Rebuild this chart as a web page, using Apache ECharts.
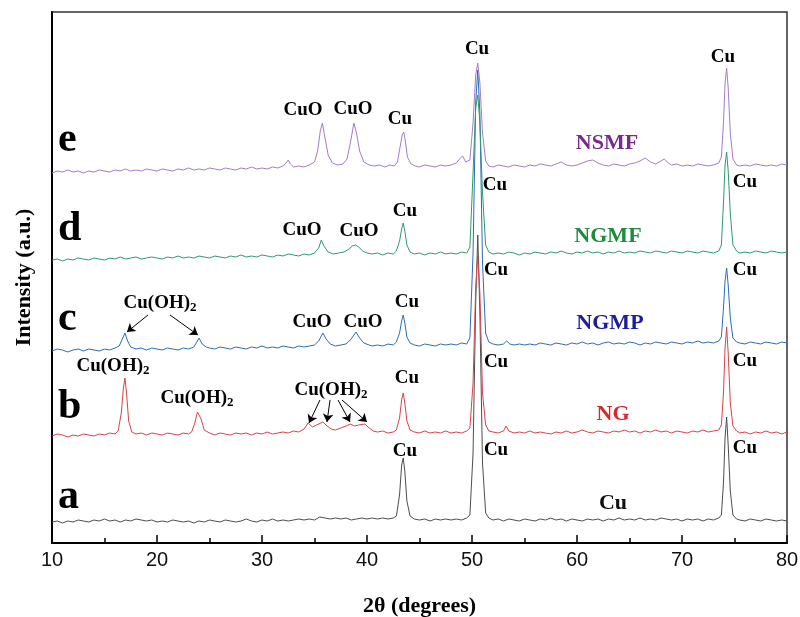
<!DOCTYPE html>
<html>
<head>
<meta charset="utf-8">
<script src="https://cdn.jsdelivr.net/npm/echarts@6/dist/echarts.min.js"></script>
<style>html,body{margin:0;padding:0;background:#fff}#chart{width:800px;height:617px}</style>
</head>
<body>
<div id="chart"></div>
<script>
// x-axis tick values (2θ, degrees)
const xTicks = [10, 20, 30, 40, 50, 60, 70, 80];

// XRD patterns, [2θ, intensity (offset, a.u.)]
const patA = [[10,21],[10.5,22],[11,20],[11.5,22],[12,21],[12.5,23],[13,22],[13.5,21],[14,23],[14.5,22],[15,24],[15.5,22],[16,23],[16.5,21],[17,23],[17.5,22],[18,24],[18.5,23],[19,22],[19.5,23],[20,21],[20.5,22],[21,21],[21.5,23],[22,22],[22.5,21],[23,22],[23.5,20],[24,22],[24.5,21],[25,23],[25.5,22],[26,21],[26.5,23],[27,22],[27.5,21],[28,22],[28.5,24],[29,22],[29.5,21],[30,23],[30.5,22],[31,24],[31.5,22],[32,23],[32.5,22],[33,23],[33.5,24],[34,23],[34.5,24],[35,23],[35.5,26],[36,25],[36.5,24],[37,25],[37.5,24],[38,25],[38.5,23],[39,24],[39.5,25],[40,24],[40.5,25],[41,24],[41.5,25],[42,24],[42.5,25],[42.8,27],[43.1,48],[43.3,78],[43.45,85],[43.6,72],[43.8,42],[44.1,27],[44.5,24],[45,23],[45.5,24],[46,22],[46.5,24],[47,23],[47.5,24],[48,23],[48.5,24],[49,23],[49.5,25],[49.8,28],[50.1,90],[50.35,240],[50.55,308],[50.75,230],[51,80],[51.3,30],[51.6,25],[52,23],[52.5,24],[53,22],[53.5,24],[54,23],[54.5,22],[55,24],[55.5,23],[56,22],[56.5,24],[57,23],[57.5,25],[58,23],[58.5,24],[59,22],[59.5,24],[60,23],[60.5,22],[61,24],[61.5,23],[62,24],[62.5,22],[63,24],[63.5,23],[64,25],[64.5,23],[65,24],[65.5,23],[66,25],[66.5,23],[67,24],[67.5,23],[68,25],[68.5,24],[69,23],[69.5,24],[70,22],[70.5,24],[71,23],[71.5,24],[72,22],[72.5,24],[73,23],[73.5,25],[73.75,28],[73.95,60],[74.1,105],[74.25,126],[74.4,98],[74.6,52],[74.85,28],[75.2,24],[75.5,23],[76,22],[76.5,24],[77,23],[77.5,22],[78,24],[78.5,23],[79,22],[79.5,23],[80,22]];

const patB = [[10,107],[10.5,109],[11,108],[11.5,106],[12,108],[12.5,107],[13,109],[13.5,108],[14,107],[14.5,109],[15,108],[15.5,110],[16,109],[16.3,112],[16.6,130],[16.8,155],[16.95,165],[17.1,150],[17.3,122],[17.6,111],[18,109],[18.5,110],[19,108],[19.5,110],[20,109],[20.5,108],[21,110],[21.5,109],[22,108],[22.5,110],[23,109],[23.3,111],[23.6,120],[23.85,131],[24,133],[24.2,124],[24.5,113],[25,110],[25.5,108],[26,110],[26.5,109],[27,108],[27.5,110],[28,109],[28.5,110],[29,108],[29.5,110],[30,109],[30.5,111],[31,109],[31.5,110],[32,111],[32.5,110],[33,112],[33.5,111],[34,114],[34.4,120],[34.8,116],[35.2,118],[35.8,121],[36.2,117],[36.6,114],[37,113],[37.5,115],[38,117],[38.4,119],[38.8,117],[39.2,118],[39.8,119],[40.2,115],[40.6,112],[41,111],[41.5,112],[42,110],[42.5,111],[42.8,113],[43.1,125],[43.3,143],[43.45,150],[43.6,140],[43.8,122],[44.1,113],[44.5,111],[45,110],[45.5,112],[46,110],[46.5,111],[47,110],[47.5,112],[48,110],[48.5,111],[49,110],[49.5,112],[49.8,115],[50.1,160],[50.35,255],[50.55,288],[50.75,250],[51,150],[51.3,118],[51.6,112],[52,111],[52.5,110],[53,112],[53.25,117],[53.5,112],[54,110],[54.5,111],[55,110],[55.5,112],[56,110],[56.5,111],[57,110],[57.5,109],[58,111],[58.5,110],[59,112],[59.5,110],[60,111],[60.5,113],[61,111],[61.5,110],[62,112],[62.5,111],[63,110],[63.5,112],[64,111],[64.5,113],[65,111],[65.5,112],[66,110],[66.5,112],[67,111],[67.5,113],[68,111],[68.5,112],[69,110],[69.5,112],[70,111],[70.5,110],[71,112],[71.5,111],[72,113],[72.5,111],[73,112],[73.5,113],[73.75,118],[73.95,150],[74.1,195],[74.25,216],[74.4,190],[74.6,140],[74.85,117],[75.2,112],[75.5,110],[76,111],[76.5,109],[77,111],[77.5,110],[78,112],[78.5,110],[79,111],[79.5,109],[80,111]];

const patC = [[10,192],[10.5,194],[11,193],[11.5,191],[12,193],[12.5,194],[13,192],[13.5,194],[14,193],[14.5,192],[15,194],[15.5,193],[16,195],[16.4,197],[16.7,204],[16.95,210],[17.2,202],[17.5,196],[18,194],[18.5,195],[19,193],[19.5,195],[20,194],[20.5,193],[21,195],[21.5,194],[22,193],[22.5,195],[23,194],[23.5,196],[23.8,201],[24,205],[24.3,199],[24.7,196],[25,195],[25.5,194],[26,196],[26.5,195],[27,194],[27.5,196],[28,195],[28.5,194],[29,196],[29.5,195],[30,197],[30.5,195],[31,196],[31.5,195],[32,197],[32.5,196],[33,195],[33.5,197],[34,196],[34.5,197],[35,198],[35.4,202],[35.8,210],[36.1,204],[36.5,199],[37,197],[37.5,198],[38,199],[38.5,204],[38.95,211],[39.3,205],[39.7,200],[40.2,198],[40.5,197],[41,198],[41.5,197],[42,199],[42.5,198],[42.8,201],[43.1,210],[43.3,222],[43.45,228],[43.6,220],[43.8,206],[44.1,200],[44.5,198],[45,197],[45.5,199],[46,198],[46.5,197],[47,199],[47.5,198],[48,199],[48.5,198],[49,200],[49.5,199],[49.8,205],[50.1,290],[50.35,440],[50.55,473],[50.75,430],[51,280],[51.3,210],[51.6,201],[52,199],[52.5,198],[53,199],[53.3,202],[53.6,199],[54,198],[54.5,199],[55,198],[55.5,199],[56,198],[56.5,200],[57,199],[57.5,198],[58,200],[58.5,199],[59,198],[59.5,200],[60,199],[60.5,201],[61,199],[61.5,200],[62,198],[62.5,200],[63,201],[63.5,199],[64,200],[64.5,199],[65,201],[65.5,200],[66,198],[66.5,200],[67,199],[67.5,201],[68,200],[68.5,199],[69,201],[69.5,200],[70,199],[70.5,201],[71,200],[71.5,202],[72,200],[72.5,201],[73,200],[73.5,202],[73.75,206],[73.95,235],[74.1,262],[74.25,275],[74.4,258],[74.6,225],[74.85,205],[75.2,201],[75.5,200],[76,199],[76.5,201],[77,200],[77.5,199],[78,201],[78.5,200],[79,199],[79.5,201],[80,200]];

const patD = [[10,283],[10.5,284],[11,282],[11.5,284],[12,283],[12.5,285],[13,284],[13.5,283],[14,285],[14.5,284],[15,283],[15.5,285],[16,284],[16.5,286],[17,284],[17.5,285],[18,286],[18.5,284],[19,285],[19.5,286],[20,285],[20.5,284],[21,286],[21.5,285],[22,287],[22.5,285],[23,286],[23.5,285],[24,287],[24.5,286],[25,285],[25.5,287],[26,286],[26.5,285],[27,287],[27.5,286],[28,288],[28.5,286],[29,287],[29.5,286],[30,288],[30.5,287],[31,286],[31.5,288],[32,287],[32.5,289],[33,288],[33.5,287],[34,289],[34.5,288],[35,290],[35.4,295],[35.65,303],[35.9,297],[36.3,291],[36.8,289],[37.3,290],[37.8,291],[38.3,294],[38.6,297],[38.9,298],[39.2,296],[39.6,292],[40,290],[40.5,289],[41,290],[41.5,288],[42,290],[42.5,289],[42.8,292],[43.1,302],[43.3,314],[43.45,320],[43.6,312],[43.8,298],[44.1,291],[44.5,289],[45,290],[45.5,288],[46,290],[46.5,289],[47,291],[47.5,289],[48,290],[48.5,289],[49,291],[49.5,290],[49.8,296],[50.1,370],[50.35,435],[50.55,448],[50.75,420],[51,350],[51.3,298],[51.6,291],[52,289],[52.5,290],[53,289],[53.5,291],[54,290],[54.5,288],[55,290],[55.5,289],[56,291],[56.5,290],[57,289],[57.5,291],[58,290],[58.5,292],[59,290],[59.5,289],[60,291],[60.5,290],[61,292],[61.5,290],[62,291],[62.5,289],[63,291],[63.5,290],[64,292],[64.5,290],[65,291],[65.5,290],[66,292],[66.5,291],[67,290],[67.5,292],[68,291],[68.5,290],[69,292],[69.5,291],[70,290],[70.5,292],[71,291],[71.5,290],[72,292],[72.5,291],[73,290],[73.5,292],[73.75,298],[73.95,340],[74.1,378],[74.25,391],[74.4,372],[74.6,330],[74.85,298],[75.2,292],[75.5,290],[76,291],[76.5,290],[77,292],[77.5,291],[78,290],[78.5,292],[79,291],[79.5,290],[80,291]];

const patE = [[10,370],[10.5,372],[11,371],[11.5,373],[12,371],[12.5,372],[13,370],[13.5,372],[14,371],[14.5,373],[15,372],[15.5,371],[16,373],[16.5,372],[17,374],[17.5,372],[18,373],[18.5,372],[19,374],[19.5,373],[20,372],[20.5,374],[21,373],[21.5,372],[22,374],[22.5,373],[23,375],[23.5,373],[24,374],[24.5,373],[25,375],[25.5,374],[26,373],[26.5,375],[27,374],[27.5,373],[28,375],[28.5,374],[29,376],[29.5,374],[30,375],[30.5,374],[31,376],[31.5,375],[32,377],[32.3,380],[32.5,383],[32.7,379],[33,376],[33.5,377],[34,376],[34.5,378],[35,381],[35.3,392],[35.55,412],[35.75,420],[35.95,408],[36.3,388],[36.7,380],[37.2,378],[37.7,379],[38.1,384],[38.45,402],[38.75,420],[39.0,410],[39.3,392],[39.7,381],[40.2,378],[40.7,377],[41.2,378],[41.7,376],[42.2,378],[42.6,377],[42.9,381],[43.15,396],[43.35,408],[43.5,411],[43.65,402],[43.85,386],[44.2,379],[44.6,377],[45,376],[45.5,378],[46,377],[46.5,376],[47,378],[47.5,377],[48,378],[48.5,380],[48.9,385],[49.1,387],[49.4,381],[49.8,383],[50.1,420],[50.35,468],[50.55,480],[50.75,460],[51,410],[51.3,382],[51.6,377],[52,376],[52.5,378],[53,377],[53.5,376],[54,378],[54.5,377],[55,376],[55.5,378],[56,377],[56.5,379],[57,378],[57.5,377],[58,379],[58.5,381],[59,378],[59.5,377],[60,378],[60.5,380],[61,382],[61.5,383],[62,380],[62.5,378],[63,377],[63.5,379],[64,378],[64.5,377],[65,379],[65.5,380],[66,382],[66.5,385],[67,381],[67.5,379],[68,382],[68.3,384],[68.7,380],[69,378],[69.5,379],[70,377],[70.5,378],[71,377],[71.5,379],[72,378],[72.5,377],[73,378],[73.5,380],[73.75,386],[73.95,420],[74.1,460],[74.25,475],[74.4,455],[74.6,410],[74.85,384],[75.2,378],[75.5,377],[76,378],[76.5,377],[77,379],[77.5,378],[78,377],[78.5,378],[79,377],[79.5,379],[80,378]];

// Annotations: [text, 2θ, intensity]
const phaseLabels = [
  ['CuO',33.9,433],['CuO',38.67,434],['Cu',43.14,424],['Cu',50.48,494],['Cu',73.9,486],
  ['CuO',33.81,313],['CuO',39.24,312],['Cu',43.62,332],['Cu',52.19,358],['Cu',76.0,361],
  ['CuO',34.76,221],['CuO',39.62,221],['Cu',43.81,241],['Cu',52.29,273],['Cu',76.0,273],
  ['Cu',43.81,165],['Cu',52.29,181],['Cu',76.0,182],
  ['Cu',43.62,92],['Cu',52.29,93],['Cu',76.0,95]
];
const hydroxideLabels = [[20.29,240],[15.81,177],[23.81,145],[36.57,153]];
const sampleLetters = [['e',10.57,403],['d',10.57,314],['c',10.57,224],['b',10.57,136],['a',10.57,46]];
const sampleNames = [['NSMF',62.86,400],['NGMF',62.95,307],['NGMP',63.14,220],['NG',63.43,129],['Cu',63.43,40]];
// arrows: [from 2θ, from I, to 2θ, to I]
const arrows = [
  [19.14,228,17.14,211],[21.24,228,23.9,208],
  [35.52,143,34.48,120],[36.48,143,36.19,121],[37.24,143,38.38,121],[37.62,143,40.0,121]
];

const serif = "'Liberation Serif','Times New Roman',serif";
const seriesColors = ['#4d4d4d','#d8434b','#2c6db5','#2e9a6e','#a47ccb'];
const nameColors = ['#7a2a8c','#1d8b3b','#1c1c9c','#d42a2a','#111111'];

function pt(coord, label) {
  return { coord: coord, symbol: 'circle', symbolSize: 1, itemStyle: { color: 'rgba(0,0,0,0)' }, label: label };
}
const markData = [];
phaseLabels.forEach(l => markData.push(pt([l[1], l[2]], {
  show: true, position: 'inside', formatter: l[0], color: '#000', fontFamily: serif, fontWeight: 'bold', fontSize: 19
})));
hydroxideLabels.forEach(l => markData.push(pt([l[0], l[1]], {
  show: true, position: 'inside', formatter: '{m|Cu(OH)}{s|2}',
  rich: {
    m: { fontFamily: serif, fontWeight: 'bold', fontSize: 19, color: '#000', lineHeight: 20 },
    s: { fontFamily: serif, fontWeight: 'bold', fontSize: 13, color: '#000', lineHeight: 13, padding: [9, 0, 0, 0] }
  }
})));
sampleLetters.forEach(l => markData.push(pt([l[1], l[2]], {
  show: true, position: 'inside', align: 'left', formatter: l[0], color: '#000', fontFamily: serif, fontWeight: 'bold', fontSize: 42
})));
sampleNames.forEach((l, i) => markData.push(pt([l[1], l[2]], {
  show: true, position: 'inside', formatter: l[0], color: nameColors[i], fontFamily: serif, fontWeight: 'bold', fontSize: 22
})));
const arrowData = arrows.map(a => [{ coord: [a[0], a[1]] }, { coord: [a[2], a[3]] }]);

const patterns = [patA, patB, patC, patD, patE];
const series = patterns.map((p, i) => ({
  type: 'line', data: p, showSymbol: false, symbol: 'none', smooth: false,
  lineStyle: { color: seriesColors[i], width: 1 }, silent: true, z: 2 + i
}));
series[0].markPoint = { silent: true, animation: false, data: markData, z: 10 };
series[0].markLine = {
  silent: true, animation: false, symbol: ['none', 'arrow'], symbolSize: 8,
  itemStyle: { color: '#000' },
  lineStyle: { color: '#000', width: 1, type: 'solid' }, label: { show: false }, data: arrowData
};

const chart = echarts.init(document.getElementById('chart'));
chart.setOption({
  animation: false,
  backgroundColor: '#fff',
  grid: { left: 52, right: 13, top: 12, bottom: 74, show: true, borderColor: '#333', borderWidth: 1.5, outerBoundsMode: 'none', containLabel: false },
  xAxis: {
    type: 'value', min: xTicks[0], max: xTicks[xTicks.length - 1], interval: 10,
    name: '2θ (degrees)', nameLocation: 'middle', nameGap: 52,
    nameTextStyle: { fontFamily: serif, fontWeight: 'bold', fontSize: 22, color: '#000' },
    axisLine: { lineStyle: { color: '#000', width: 2 } },
    axisTick: { inside: true, length: 8, lineStyle: { color: '#000', width: 1.5 } },
    minorTick: { show: true, splitNumber: 2, length: 5, lineStyle: { color: '#000', width: 1.5 } },
    axisLabel: { fontFamily: "'Liberation Sans',Arial,sans-serif", fontSize: 20, color: '#111', margin: 7 },
    splitLine: { show: false }
  },
  yAxis: {
    type: 'value', min: 0, max: 531,
    name: 'Intensity (a.u.)', nameLocation: 'middle', nameGap: 17,
    nameTextStyle: { fontFamily: serif, fontWeight: 'bold', fontSize: 22, color: '#000' },
    axisLine: { show: true, lineStyle: { color: '#000', width: 2 } },
    axisTick: { show: false }, axisLabel: { show: false }, splitLine: { show: false }
  },
  series: series
});
</script>
</body>
</html>
